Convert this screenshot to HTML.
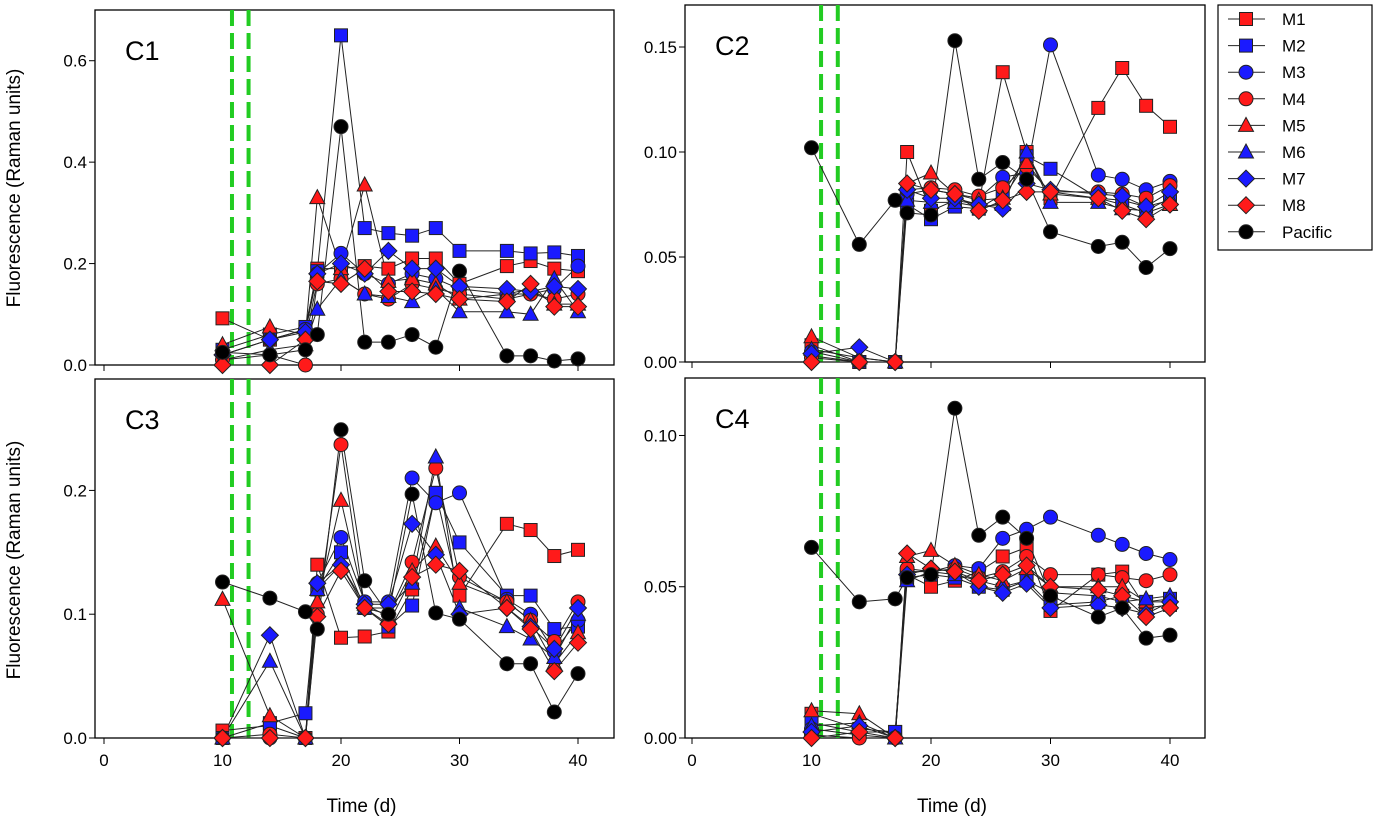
<!DOCTYPE html>
<html><head><meta charset="utf-8"><style>
body{margin:0;background:#fff}svg{display:block}
text{font-family:"Liberation Sans",Arial,sans-serif;fill:#000}
</style></head><body>
<svg id="chart" width="1374" height="821" xmlns="http://www.w3.org/2000/svg"></svg>
<script>
const days=[10,14,17,18,20,22,24,26,28,30,34,36,38,40];
const seriesNames=["M1","M2","M3","M4","M5","M6","M7","M8","Pacific"];
const c1M1=[0.092,0.05,0.07,0.19,0.19,0.195,0.19,0.21,0.21,0.16,0.195,0.205,0.19,0.185];
const c1M2=[0.03,0.06,0.075,0.185,0.65,0.27,0.26,0.255,0.27,0.225,0.225,0.22,0.222,0.215];
const c1M3=[0.02,0.05,0.07,0.18,0.22,0.18,0.16,0.18,0.17,0.15,0.14,0.14,0.15,0.195];
const c1M4=[0.01,0.02,0.0,0.16,0.17,0.14,0.13,0.16,0.15,0.14,0.13,0.14,0.13,0.14];
const c1M5=[0.04,0.075,0.06,0.33,0.19,0.355,0.165,0.17,0.16,0.13,0.14,0.15,0.12,0.12];
const c1M6=[0.01,0.03,0.04,0.11,0.17,0.14,0.135,0.125,0.15,0.105,0.105,0.1,0.17,0.105];
const c1M7=[0.02,0.05,0.065,0.18,0.2,0.18,0.225,0.19,0.19,0.155,0.15,0.145,0.155,0.15];
const c1M8=[0.0,0.0,0.05,0.165,0.16,0.19,0.145,0.145,0.14,0.13,0.125,0.16,0.115,0.115];
const c1Pac=[0.025,0.02,0.03,0.06,0.47,0.045,0.045,0.06,0.035,0.185,0.018,0.018,0.008,0.012];
const c2M1=[0.008,0,0,0.1,0.072,0.077,0.075,0.138,0.1,0.078,0.121,0.14,0.122,0.112];
const c2M2=[0.003,0,0,0.075,0.068,0.074,0.073,0.08,0.098,0.092,0.078,0.077,0.074,0.077];
const c2M3=[0.005,0,0,0.08,0.082,0.08,0.078,0.088,0.09,0.151,0.089,0.087,0.082,0.086];
const c2M4=[0.002,0,0,0.082,0.083,0.082,0.079,0.083,0.093,0.081,0.081,0.08,0.078,0.084];
const c2M5=[0.012,0.002,0,0.085,0.09,0.08,0.077,0.078,0.095,0.08,0.078,0.075,0.071,0.075];
const c2M6=[0.006,0.002,0,0.077,0.076,0.076,0.074,0.075,0.1,0.076,0.076,0.073,0.072,0.078];
const c2M7=[0.004,0.007,0,0.082,0.078,0.078,0.075,0.073,0.085,0.082,0.08,0.079,0.074,0.081];
const c2M8=[0,0,0,0.085,0.082,0.08,0.072,0.077,0.081,0.081,0.078,0.072,0.068,0.075];
const c2Pac=[0.102,0.056,0.077,0.071,0.070,0.153,0.087,0.095,0.087,0.062,0.055,0.057,0.045,0.054];
const c3M1=[0.006,0.01,0,0.14,0.081,0.082,0.086,0.12,0.198,0.115,0.173,0.168,0.147,0.152];
const c3M2=[0,0.012,0.02,0.12,0.15,0.105,0.09,0.107,0.198,0.158,0.115,0.115,0.088,0.09];
const c3M3=[0,0,0,0.125,0.162,0.11,0.11,0.21,0.19,0.198,0.112,0.1,0.07,0.095];
const c3M4=[0,0.003,0,0.1,0.237,0.105,0.1,0.142,0.218,0.13,0.11,0.095,0.078,0.11];
const c3M5=[0.112,0.018,0,0.11,0.192,0.108,0.098,0.135,0.155,0.125,0.11,0.095,0.06,0.085];
const c3M6=[0,0.062,0,0.12,0.14,0.105,0.105,0.125,0.227,0.105,0.09,0.08,0.065,0.1];
const c3M7=[0,0.083,0,0.125,0.14,0.108,0.108,0.173,0.148,0.1,0.105,0.09,0.072,0.105];
const c3M8=[0,0,0,0.098,0.135,0.105,0.092,0.13,0.14,0.135,0.105,0.088,0.054,0.077];
const c3Pac=[0.126,0.113,0.102,0.088,0.249,0.127,0.1,0.197,0.101,0.096,0.06,0.06,0.021,0.052];
const c4M1=[0.008,0.003,0.002,0.054,0.05,0.052,0.055,0.06,0.063,0.042,0.054,0.055,0.043,0.044];
const c4M2=[0.005,0.002,0.002,0.053,0.054,0.053,0.05,0.049,0.052,0.044,0.045,0.047,0.045,0.046];
const c4M3=[0.003,0.001,0,0.055,0.055,0.057,0.056,0.066,0.069,0.073,0.067,0.064,0.061,0.059];
const c4M4=[0.001,0,0,0.056,0.055,0.056,0.053,0.055,0.06,0.054,0.054,0.053,0.052,0.054];
const c4M5=[0.009,0.008,0,0.06,0.062,0.057,0.054,0.052,0.056,0.05,0.05,0.05,0.045,0.045];
const c4M6=[0.004,0.005,0,0.052,0.055,0.054,0.052,0.05,0.052,0.048,0.047,0.045,0.046,0.047];
const c4M7=[0.002,0.004,0,0.054,0.056,0.055,0.05,0.048,0.051,0.043,0.044,0.043,0.041,0.045];
const c4M8=[0,0.002,0,0.061,0.056,0.055,0.052,0.054,0.057,0.05,0.049,0.047,0.04,0.043];
const c4Pac=[0.063,0.045,0.046,0.053,0.054,0.109,0.067,0.073,0.066,0.047,0.04,0.043,0.033,0.034];
const xTicks=[0,10,20,30,40];
const c1Ticks=["0.0","0.2","0.4","0.6"];
const c2Ticks=["0.00","0.05","0.10","0.15"];
const c3Ticks=["0.0","0.1","0.2"];
const c4Ticks=["0.00","0.05","0.10"];
const dashDays=[10.8,12.2];

const NS="http://www.w3.org/2000/svg";
const svg=document.getElementById('chart');
function mk(tag,attrs,parent){const e=document.createElementNS(NS,tag);for(const k in attrs)e.setAttribute(k,attrs[k]);(parent||svg).appendChild(e);return e;}
const styles=[["square","#ff1a1a"],["square","#1a1aff"],["circle","#1a1aff"],["circle","#ff1a1a"],["triangle","#ff1a1a"],["triangle","#1a1aff"],["diamond","#1a1aff"],["diamond","#ff1a1a"],["circle","#000"]];
function marker(g,shape,color,x,y){
  const a={fill:color,stroke:"#222","stroke-width":1};let e;
  if(shape==="square")e=mk('rect',Object.assign({x:x-6.5,y:y-6.5,width:13,height:13},a),g);
  else if(shape==="circle")e=mk('circle',Object.assign({cx:x,cy:y,r:7},a),g);
  else if(shape==="triangle")e=mk('polygon',Object.assign({points:`${x},${y-8} ${x+7.5},${y+6} ${x-7.5},${y+6}`},a),g);
  else e=mk('polygon',Object.assign({points:`${x},${y-8.5} ${x+8.5},${y} ${x},${y+8.5} ${x-8.5},${y}`},a),g);
  return e;
}
const panels=[
 {name:"C1",L:95,R:614,T:10,B:365,x0:104,xs:11.85,ymax:0.7,ticks:c1Ticks,step:0.2,data:[c1M1,c1M2,c1M3,c1M4,c1M5,c1M6,c1M7,c1M8,c1Pac],xl:false},
 {name:"C2",L:685,R:1205,T:5,B:362,x0:692,xs:11.95,ymax:0.17,ticks:c2Ticks,step:0.05,data:[c2M1,c2M2,c2M3,c2M4,c2M5,c2M6,c2M7,c2M8,c2Pac],xl:false},
 {name:"C3",L:95,R:614,T:379,B:738,x0:104,xs:11.85,ymax:0.29,ticks:c3Ticks,step:0.1,data:[c3M1,c3M2,c3M3,c3M4,c3M5,c3M6,c3M7,c3M8,c3Pac],xl:true},
 {name:"C4",L:685,R:1205,T:378,B:738,x0:692,xs:11.95,ymax:0.119,ticks:c4Ticks,step:0.05,data:[c4M1,c4M2,c4M3,c4M4,c4M5,c4M6,c4M7,c4M8,c4Pac],xl:true}
];
panels.forEach(p=>{
  const g=mk('g',{});
  
  
  const X=d=>p.x0+d*p.xs, Y=v=>p.B-v/p.ymax*(p.B-p.T);
  const box=mk('rect',{x:p.L,y:p.T,width:p.R-p.L,height:p.B-p.T,fill:"none",stroke:"#000","stroke-width":1.3},g);
  
  xTicks.forEach(t=>{
    mk('line',{x1:X(t),x2:X(t),y1:p.B,y2:p.B+6,stroke:"#000"},g);
    if(p.xl){const tx=mk('text',{x:X(t),y:p.B+28,"text-anchor":"middle","font-size":17},g);tx.textContent=t;
      }
  });
  p.ticks.forEach((lab,i)=>{
    const y=Y(i*p.step);
    mk('line',{x1:p.L-6,x2:p.L,y1:y,y2:y,stroke:"#000"},g);
    const tx=mk('text',{x:p.L-8,y:y+6,"text-anchor":"end","font-size":17},g);tx.textContent=lab;
    
  });
  dashDays.forEach(d=>{const l=mk('line',{x1:X(d),x2:X(d),y1:p.T+(p.T<100?0:0),y2:p.B,stroke:"#22cc22","stroke-width":4,"stroke-dasharray":"16,7"},g);
    });
  p.data.forEach((arr,si)=>{
    const pts=days.map((d,i)=>X(d)+","+Y(arr[i])).join(" ");
    const pl=mk('polyline',{points:pts,fill:"none",stroke:"#222","stroke-width":1},g);
    
    
  });
  p.data.forEach((arr,si)=>{
    days.forEach((d,i)=>{const m=marker(g,styles[si][0],styles[si][1],X(d),Y(arr[i]));
      
      });
  });
  const lb=mk('text',{x:p.L+30,y:p.T+50,"font-size":27},g);lb.textContent=p.name;
  
  if(p.xl){const xt=mk('text',{x:(p.L+p.R)/2+7,y:812,"text-anchor":"middle","font-size":19},g);xt.textContent="Time (d)";
    }
});
[188,560].forEach(cy=>{const t=mk('text',{x:0,y:0,"text-anchor":"middle","font-size":19,transform:`translate(20,${cy}) rotate(-90)`});t.textContent="Fluorescence (Raman units)";
  });
const lg=mk('g',{});


mk('rect',{x:1218,y:5,width:154,height:245,fill:"#fff",stroke:"#000","stroke-width":1.2},lg);
seriesNames.forEach((n,i)=>{
  const y=19+i*26.6;
  const e=mk('g',{},lg);
  
  
  mk('line',{x1:1228,x2:1265,y1:y,y2:y,stroke:"#222"},e);
  marker(e,styles[i][0],styles[i][1],1246,y);
  const t=mk('text',{x:1282,y:y+6,"font-size":17},e);t.textContent=n;
});
</script>
</body></html>
